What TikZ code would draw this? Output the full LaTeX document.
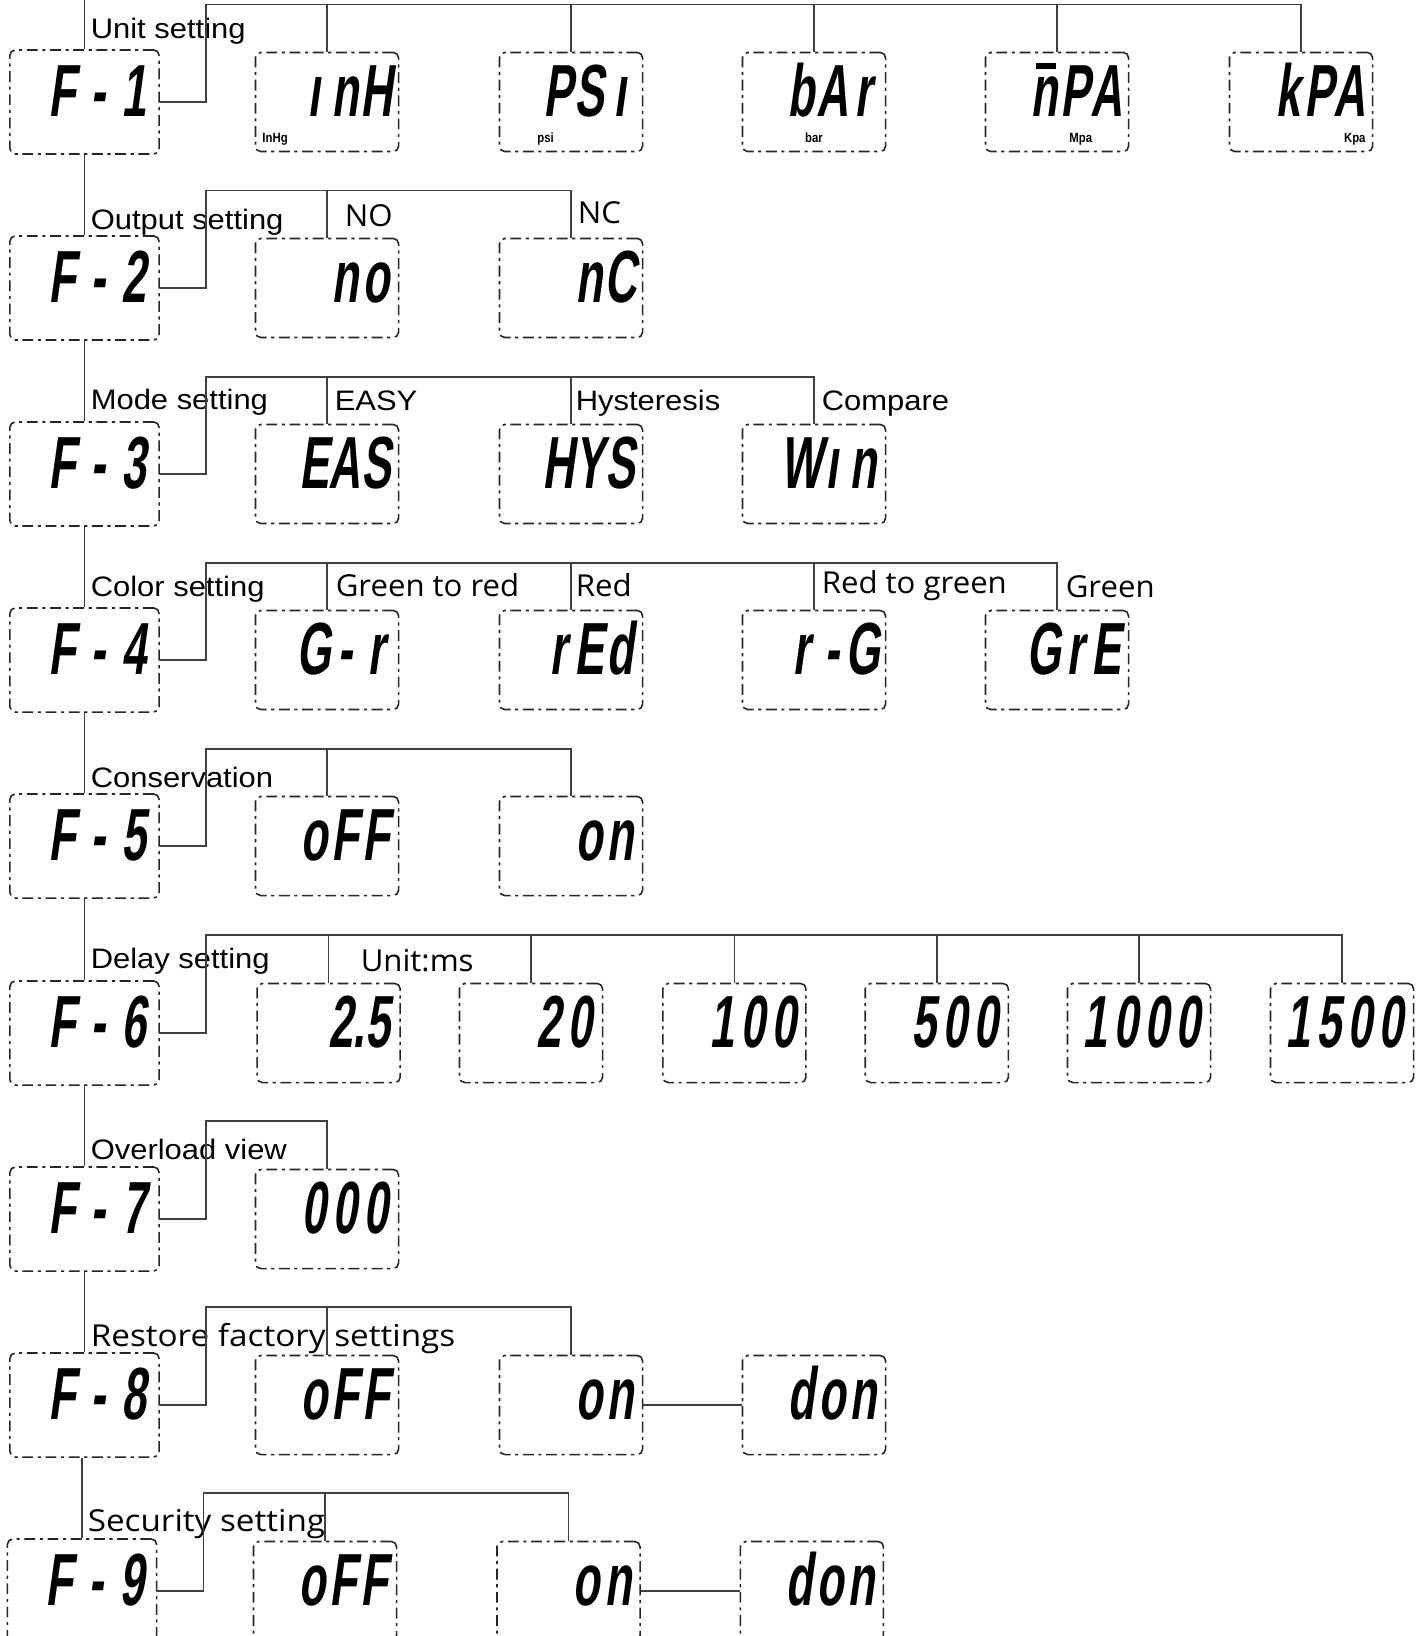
\documentclass[tikz,border=0pt]{standalone}
\usepackage{fontspec}
\setmainfont{Liberation Sans}
\newfontfamily\tagfont{Liberation Sans}[FakeStretch=1.1]
\newfontfamily\notefont{Open Sans}[FakeStretch=1.03]
\newfontfamily\widenotefont{Open Sans}[FakeStretch=1.1]
\newfontfamily\lcdfont{Liberation Sans}[FakeStretch=0.6,FakeSlant=0.14]
\newfontfamily\unitfont{Liberation Sans}[FakeStretch=0.85]
% one fixed cell per glyph, like the segments of the display
\newcommand\lcd[2][0.31cm]{\def\lcdcell{#1}\lcdstep#2\relax}
\def\lcdstep#1{\ifx\relax#1\else\makebox[\lcdcell]{#1}\expandafter\lcdstep\fi}
% n with the top segment lit, as the display shows M
\newcommand\segm{\rlap{\hspace{1.6pt}\raisebox{13.6pt}{\rule{5.6pt}{1.7pt}}}n}

\begin{document}
\begin{tikzpicture}[x=0.01cm,y=-0.01cm,line width=0.45pt,
  lcdbox/.style={draw=black!85,rounded corners=1.5pt,
    dash pattern=on 3.1pt off 1.3pt on 0.9pt off 1.3pt,
    inner xsep=0.07cm,align=right,text height=12pt,text depth=3.5pt,
    font=\lcdfont\bfseries\fontsize{21}{21}\selectfont},
  fbox/.style={lcdbox,minimum height=1.04cm,text width=1.35cm},
  vbox/.style={lcdbox,minimum height=0.99cm,text width=1.29cm},
  link/.style={draw=black!75,line width=0.5pt},
  tag/.style={anchor=base west,inner sep=0pt,font=\tagfont\fontsize{8}{9}\selectfont},
  note/.style={anchor=base west,inner sep=0pt,font=\notefont\fontsize{8.6}{10}\selectfont},
  widenote/.style={note,font=\widenotefont\fontsize{8.6}{10}\selectfont},
  unit/.style={inner sep=0pt,font=\unitfont\bfseries\fontsize{3.8}{4}\selectfont}]
  \useasboundingbox (0,0) rectangle (1424,1636);
  \clip (0,0) rectangle (1424,1636);

  % function column
  \foreach \k/\y in {1/102,2/288,3/474,4/660,5/846,6/1033,7/1219,8/1405}
    \node[fbox] (f\k) at (84.5,\y) {\lcd[0.36cm]{F-\k}};
  \node[fbox] (f9) at (82,1591) {\lcd[0.36cm]{F-9}};
  \coordinate (top) at (84.5,-10);
  \draw[link] (f1.north) -- (top);
  \foreach \a/\b in {1/2,2/3,3/4,4/5,5/6,6/7,7/8}
    \draw[link] (f\a.south) -- (f\b.north);
  \draw[link] (f9.north) -- (f9.north |- f8.south);

  % F-1 unit
  \node[tag] (t1) at (90,38) {Unit setting};
  \node[vbox] (inh) at (327,102) {\lcd{\i nH}};
  \node[vbox] (psi) at (571,102) {\lcd{PS\i}};
  \node[vbox] (bar) at (814,102) {\lcd{bAr}};
  \node[vbox] (mpa) at (1057,102) {\lcd{\segm PA}};
  \node[vbox] (kpa) at (1301,102) {\lcd{kPA}};
  \node[unit,anchor=base west] (inhu) at ([shift={(7,-10)}]inh.south west) {InHg};
  \node[unit,anchor=base west] (psiu) at ([shift={(38,-10)}]psi.south west) {psi};
  \node[unit,anchor=base] (baru) at ([shift={(0,-10)}]bar.south) {bar};
  \node[unit,anchor=base west] (mpau) at ([shift={(84,-10)}]mpa.south west) {Mpa};
  \node[unit,anchor=base east] (kpau) at ([shift={(-7,-10)}]kpa.south east) {Kpa};
  \coordinate (b1) at (206,4.5);
  \draw[link] (f1.east) -| (b1) -| (kpa.north);
  \foreach \n in {inh,psi,bar,mpa} \draw[link] (\n.north) -- (\n.north |- b1);

  % F-2 output
  \node[tag] (t2) at (90,229) {Output setting};
  \node[note] (no-t) at (344,226) {NO};
  \node[note] (nc-t) at (577,223) {NC};
  \node[vbox] (no) at (327,288) {\lcd{no}};
  \node[vbox] (nc) at (571,288) {\lcd{nC}};
  \coordinate (b2) at (206,190.6);
  \draw[link] (f2.east) -| (b2) -| (nc.north);
  \draw[link] (no.north) -- (no.north |- b2);

  % F-3 mode
  \node[tag] (t3) at (90,409) {Mode setting};
  \node[tag] (easy-t) at (334,410) {EASY};
  \node[tag] (hys-t) at (575,410) {Hysteresis};
  \node[tag] (win-t) at (821,410) {Compare};
  \node[vbox] (easy) at (327,474) {\lcd{EAS}};
  \node[vbox] (hys) at (571,474) {\lcd{HYS}};
  \node[vbox] (win) at (814,474) {\lcd{W\i n}};
  \coordinate (b3) at (206,376.7);
  \draw[link] (f3.east) -| (b3) -| (win.north);
  \foreach \n in {easy,hys} \draw[link] (\n.north) -- (\n.north |- b3);

  % F-4 colour
  \node[tag] (t4) at (90,596) {Color setting};
  \node[note] (gr-t) at (335,596) {Green to red};
  \node[note] (red-t) at (575,596) {Red};
  \node[note] (rg-t) at (821,593) {Red to green};
  \node[note] (gre-t) at (1065,597) {Green};
  \node[vbox] (gr) at (327,660) {\lcd{G-r}};
  \node[vbox] (red) at (571,660) {\lcd{rEd}};
  \node[vbox] (rg) at (814,660) {\lcd{r-G}};
  \node[vbox] (gre) at (1057,660) {\lcd{GrE}};
  \coordinate (b4) at (206,562.8);
  \draw[link] (f4.east) -| (b4) -| (gre.north);
  \foreach \n in {gr,red,rg} \draw[link] (\n.north) -- (\n.north |- b4);

  % F-5 conservation
  \node[tag] (t5) at (90,787) {Conservation};
  \node[vbox] (off5) at (327,846) {\lcd{oFF}};
  \node[vbox] (on5) at (571,846) {\lcd{on}};
  \coordinate (b5) at (206,748.9);
  \draw[link] (f5.east) -| (b5) -| (on5.north);
  \draw[link] (off5.north) -- (off5.north |- b5);

  % F-6 delay
  \node[tag] (t6) at (90,968) {Delay setting};
  \node[note] (ms-t) at (360,971) {Unit:ms};
  \node[vbox] (d25) at (328.6,1033) {\lcd{{2.}5}};
  \node[vbox] (d20) at (531,1033) {\lcd{20}};
  \node[vbox] (d100) at (734.4,1033) {\lcd{100}};
  \node[vbox] (d500) at (936.8,1033) {\lcd{500}};
  \node[vbox] (d1000) at (1139,1033) {\lcd{1000}};
  \node[vbox] (d1500) at (1342,1033) {\lcd{1500}};
  \coordinate (b6) at (206,935);
  \draw[link] (f6.east) -| (b6) -| (d1500.north);
  \foreach \n in {d25,d20,d100,d500,d1000} \draw[link] (\n.north) -- (\n.north |- b6);

  % F-7 overload
  \node[tag] (t7) at (90,1159) {Overload view};
  \node[vbox] (peak) at (327,1219) {\lcd{000}};
  \coordinate (b7) at (206,1121.1);
  \draw[link] (f7.east) -| (b7) -| (peak.north);

  % F-8 factory reset
  \node[widenote] (t8) at (90,1346) {Restore factory settings};
  \node[vbox] (off8) at (327,1405) {\lcd{oFF}};
  \node[vbox] (on8) at (571,1405) {\lcd{on}};
  \node[vbox] (don8) at (814,1405) {\lcd{don}};
  \coordinate (b8) at (206,1307.2);
  \draw[link] (f8.east) -| (b8) -| (on8.north);
  \draw[link] (off8.north) -- (off8.north |- b8);
  \draw[link] (on8.east) -- (don8.west);

  % F-9 security
  \node[widenote] (t9) at (87,1531) {Security setting};
  \node[vbox] (off9) at (325,1591) {\lcd{oFF}};
  \node[vbox] (on9) at (568.5,1591) {\lcd{on}};
  \node[vbox] (don9) at (811.9,1591) {\lcd{don}};
  \coordinate (b9) at (203.5,1493.3);
  \draw[link] (f9.east) -| (b9) -| (on9.north);
  \draw[link] (off9.north) -- (off9.north |- b9);
  \draw[link] (on9.east) -- (don9.west);
\end{tikzpicture}
\end{document}
